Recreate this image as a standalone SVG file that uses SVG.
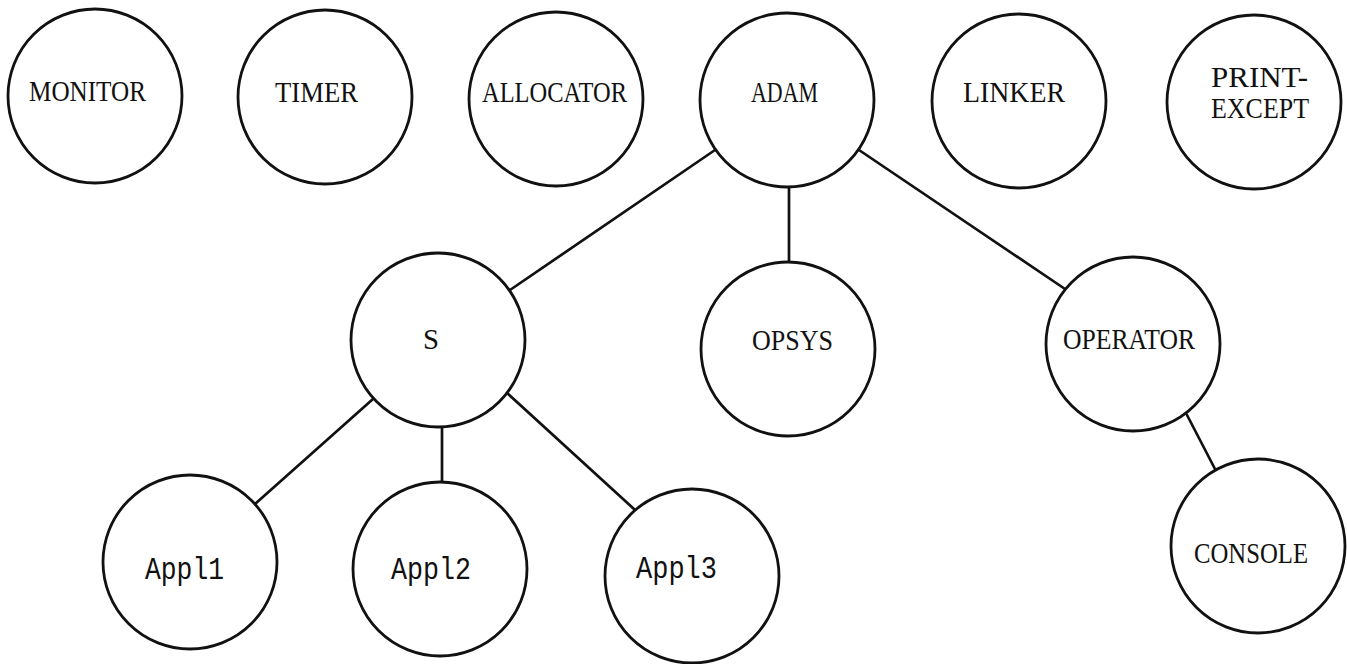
<svg xmlns="http://www.w3.org/2000/svg" width="1347" height="664" viewBox="0 0 1347 664">
  <style>
    .node circle { fill: #ffffff; stroke: #111111; stroke-width: 2.8; }
    .edges line { stroke: #111111; stroke-width: 2.7; stroke-linecap: round; }
    .caps { font-family: "Liberation Serif", "Times New Roman", serif; font-size: 29px; fill: #111111; text-anchor: middle; }
    .mono { font-family: "Liberation Mono", "Courier New", monospace; font-size: 31px; fill: #111111; text-anchor: middle; }
  </style>
  <rect width="1347" height="664" fill="#ffffff"/>

  <!-- process tree connectors -->
  <g id="connectors" class="edges">
    <line x1="715" y1="150" x2="510" y2="290"/>
    <line x1="789" y1="188" x2="789" y2="262"/>
    <line x1="859" y1="150" x2="1065" y2="289"/>
    <line x1="1187" y1="415" x2="1215" y2="469"/>
    <line x1="373" y1="399" x2="255" y2="504"/>
    <line x1="442" y1="427" x2="442" y2="482"/>
    <line x1="507" y1="393" x2="634" y2="509"/>
  </g>

  <!-- top row -->
  <g id="monitor" class="node">
    <circle cx="95" cy="96" r="87"/>
    <text class="caps" x="87.5" y="101" textLength="117" lengthAdjust="spacingAndGlyphs">MONITOR</text>
  </g>
  <g id="timer" class="node">
    <circle cx="325" cy="97" r="87"/>
    <text class="caps" x="316.5" y="102" textLength="83" lengthAdjust="spacingAndGlyphs">TIMER</text>
  </g>
  <g id="allocator" class="node">
    <circle cx="556" cy="99" r="87"/>
    <text class="caps" x="554.5" y="102" textLength="145" lengthAdjust="spacingAndGlyphs">ALLOCATOR</text>
  </g>
  <g id="adam" class="node">
    <circle cx="787" cy="100" r="87"/>
    <text class="caps" x="784.5" y="102" textLength="67" lengthAdjust="spacingAndGlyphs">ADAM</text>
  </g>
  <g id="linker" class="node">
    <circle cx="1019" cy="101" r="87"/>
    <text class="caps" x="1014" y="102" textLength="102" lengthAdjust="spacingAndGlyphs">LINKER</text>
  </g>
  <g id="print-except" class="node">
    <circle cx="1254" cy="102" r="87"/>
    <text class="caps" x="1259.5" y="87" textLength="97" lengthAdjust="spacingAndGlyphs">PRINT-</text>
    <text class="caps" x="1260" y="118" textLength="98" lengthAdjust="spacingAndGlyphs">EXCEPT</text>
  </g>

  <!-- second row -->
  <g id="s" class="node">
    <circle cx="438" cy="340" r="87"/>
    <text class="caps" x="431" y="349" textLength="16" lengthAdjust="spacingAndGlyphs">S</text>
  </g>
  <g id="opsys" class="node">
    <circle cx="788" cy="349" r="87"/>
    <text class="caps" x="792.5" y="350" textLength="81" lengthAdjust="spacingAndGlyphs">OPSYS</text>
  </g>
  <g id="operator" class="node">
    <circle cx="1133" cy="344" r="87"/>
    <text class="caps" x="1129" y="349" textLength="132" lengthAdjust="spacingAndGlyphs">OPERATOR</text>
  </g>

  <!-- leaves -->
  <g id="console" class="node">
    <circle cx="1258" cy="546" r="87"/>
    <text class="caps" x="1251" y="563" textLength="114" lengthAdjust="spacingAndGlyphs">CONSOLE</text>
  </g>
  <g id="appl1" class="node">
    <circle cx="190" cy="562" r="87"/>
    <text class="mono" x="184.5" y="579" textLength="79" lengthAdjust="spacingAndGlyphs">Appl1</text>
  </g>
  <g id="appl2" class="node">
    <circle cx="440" cy="569" r="87"/>
    <text class="mono" x="431" y="579" textLength="80" lengthAdjust="spacingAndGlyphs">Appl2</text>
  </g>
  <g id="appl3" class="node">
    <circle cx="692" cy="576" r="87"/>
    <text class="mono" x="676.5" y="578" textLength="81" lengthAdjust="spacingAndGlyphs">Appl3</text>
  </g>
</svg>
